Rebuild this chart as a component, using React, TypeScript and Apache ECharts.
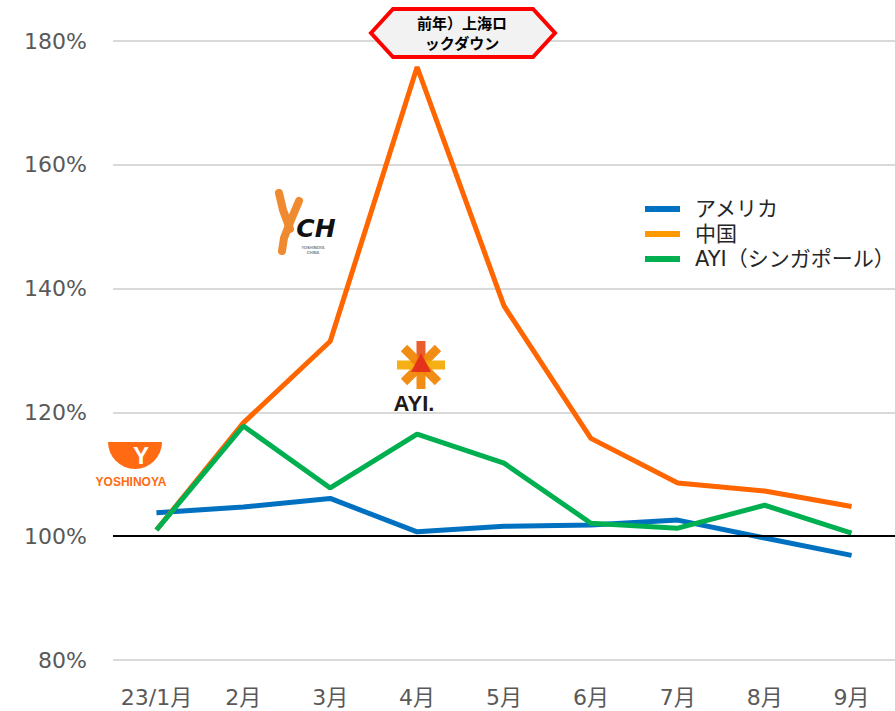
import React, { useEffect, useRef } from "react";
import * as echarts from "echarts";

const categories = ["23/1月", "2月", "3月", "4月", "5月", "6月", "7月", "8月", "9月"];
const usa = [103.8, 104.7, 106.1, 100.7, 101.6, 101.8, 102.6, 99.7, 96.9];
const china = [101.0, 118.3, 131.5, 175.8, 137.2, 115.8, 108.6, 107.3, 104.8];
const ayi = [101.0, 117.8, 107.8, 116.5, 111.8, 102.1, 101.3, 105.0, 100.5];
const seriesNames = ["アメリカ", "中国", "AYI（シンガポール）"];
const lineColors = ["#0070C0", "#FF6600", "#00B050"];
const legendColors = ["#0070C0", "#FF9900", "#00B050"];
const yTicks = { min: 80, max: 180, interval: 20 };
const calloutLines = ["前年）上海ロ", "ックダウン"];

const FONT = "'DejaVu Sans', 'Noto Sans CJK JP', sans-serif";

function starRays(cx: number, cy: number) {
  const out: any[] = [];
  const colors = ["#E8501B", "#F08300", "#F5A800", "#F08300", "#F08300", "#F08300", "#F5A800", "#F08300"];
  for (let i = 0; i < 8; i++) {
    const a = -Math.PI / 2 + (i * Math.PI) / 4;
    const L = 24;
    const w = 4.5;
    const px = Math.cos(a + Math.PI / 2) * w;
    const py = Math.sin(a + Math.PI / 2) * w;
    const tx = cx + Math.cos(a) * L;
    const ty = cy + Math.sin(a) * L;
    out.push({
      type: "polygon",
      z: 50,
      shape: {
        points: [
          [cx + px, cy + py],
          [tx + px, ty + py],
          [tx - px, ty - py],
          [cx - px, cy - py],
        ],
      },
      style: { fill: colors[i], opacity: 0.92 },
    });
  }
  out.push({
    type: "polygon",
    z: 51,
    shape: {
      points: [
        [cx, cy - 12],
        [cx + 10, cy + 7],
        [cx - 10, cy + 7],
      ],
    },
    style: { fill: "#E5321B" },
  });
  return out;
}

export default function App() {
  const ref = useRef<HTMLDivElement>(null);
  useEffect(() => {
    if (!ref.current) return;
    const chart = echarts.init(ref.current, null, { renderer: "svg" });
    const data = [usa, china, ayi];
    const option: any = {
      animation: false,
      backgroundColor: "#ffffff",
      grid: { left: 113, right: 0, top: 41, bottom: 51 },
      legend: {
        orient: "vertical",
        left: 640,
        top: 193,
        itemWidth: 35,
        itemHeight: 6,
        itemGap: 3,
        icon: "rect",
        textStyle: { fontSize: 21, color: "#262626", fontFamily: FONT, lineHeight: 22, padding: [0, 0, 0, 10] },
        data: seriesNames.map((n, i) => ({ name: n, itemStyle: { color: legendColors[i] } })),
      },
      xAxis: {
        type: "category",
        data: categories,
        boundaryGap: true,
        axisLine: { show: false },
        axisTick: { show: false },
        axisLabel: { color: "#595959", fontSize: 22, fontFamily: FONT, margin: 26, interval: 0 },
      },
      yAxis: {
        type: "value",
        min: yTicks.min,
        max: yTicks.max,
        interval: yTicks.interval,
        axisLine: { show: false },
        axisTick: { show: false },
        axisLabel: { color: "#595959", fontSize: 22, fontFamily: FONT, margin: 26, formatter: "{value}%" },
        splitLine: { lineStyle: { color: "#D9D9D9", width: 2 } },
      },
      series: seriesNames.map((n, i) => ({
        name: n,
        type: "line",
        data: data[i],
        symbol: "none",
        lineStyle: { color: lineColors[i], width: 5 },
        itemStyle: { color: lineColors[i] },
        z: 2 + i,
        markLine:
          i === 0
            ? {
                silent: true,
                symbol: "none",
                label: { show: false },
                lineStyle: { color: "#000000", width: 2, type: "solid" },
                data: [{ yAxis: 100 }],
              }
            : undefined,
      })),
      graphic: [
        // callout
        {
          type: "polygon",
          z: 100,
          shape: {
            points: [
              [371, 33],
              [393, 9],
              [533, 9],
              [555, 33],
              [533, 57],
              [393, 57],
            ],
          },
          style: { fill: "#F2F2F2", stroke: "#FF0000", lineWidth: 4 },
        },
        {
          type: "text",
          z: 101,
          x: 462,
          y: 32,
          style: {
            text: calloutLines.join("\n"),
            font: "bold 15px 'Noto Sans CJK JP', sans-serif",
            fill: "#000000",
            align: "center",
            verticalAlign: "middle",
            lineHeight: 20,
          },
        },
        // Yoshinoya logo
        {
          type: "sector",
          z: 50,
          shape: { cx: 135, cy: 442, r: 27, r0: 0, startAngle: 0, endAngle: Math.PI, clockwise: true },
          style: { fill: "#FF6A13" },
        },
        {
          type: "text",
          z: 51,
          x: 141,
          y: 455,
          style: {
            text: "Y",
            font: "bold 24px 'Liberation Sans', sans-serif",
            fill: "#ffffff",
            align: "center",
            verticalAlign: "middle",
          },
        },
        {
          type: "text",
          z: 50,
          x: 131,
          y: 482,
          style: {
            text: "YOSHINOYA",
            font: "bold 12px 'Liberation Sans', sans-serif",
            fill: "#FF6A13",
            align: "center",
            verticalAlign: "middle",
          },
        },
        // YCH logo
        {
          type: "polyline",
          z: 50,
          shape: { points: [[279, 193], [283, 210], [290, 229]] },
          style: { stroke: "#F08A30", lineWidth: 8, lineCap: "round", fill: "none" },
        },
        {
          type: "polyline",
          z: 50,
          shape: { points: [[299, 201], [291, 220], [284, 238], [282, 251]] },
          style: { stroke: "#F08A30", lineWidth: 8, lineCap: "round", fill: "none" },
        },
        {
          type: "text",
          z: 51,
          x: 316,
          y: 228,
          style: {
            text: "CH",
            font: "italic bold 25px 'DejaVu Sans', sans-serif",
            fill: "#111111",
            align: "center",
            verticalAlign: "middle",
          },
        },
        {
          type: "text",
          z: 51,
          x: 313,
          y: 250,
          style: {
            text: "YOSHINOYA\nCHINA",
            font: "4px 'DejaVu Sans', sans-serif",
            fill: "#333333",
            align: "center",
            verticalAlign: "middle",
            lineHeight: 5,
          },
        },
        // AYI logo
        ...starRays(421, 365),
        {
          type: "text",
          z: 51,
          x: 414,
          y: 403,
          style: {
            text: "AYI.",
            font: "bold 22px 'Liberation Sans', sans-serif",
            fill: "#231815",
            align: "center",
            verticalAlign: "middle",
          },
        },
      ],
    };
    chart.setOption(option);
    return () => chart.dispose();
  }, []);
  return (
    <div
      ref={ref}
      style={{ position: "fixed", left: 0, top: 0, width: 895, height: 711, background: "#fff" }}
    />
  );
}
